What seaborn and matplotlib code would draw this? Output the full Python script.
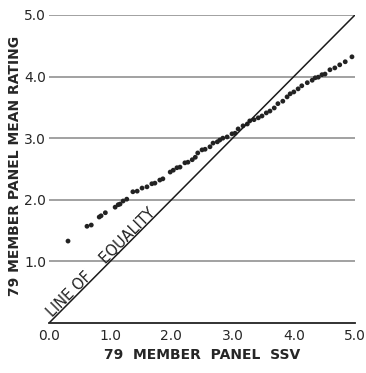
import seaborn as sns
import matplotlib
matplotlib.use("Agg")
import matplotlib.pyplot as plt
import pandas as pd

# values
ssv = [0.31, 0.62, 0.69, 0.82, 0.85, 0.92, 1.08, 1.13, 1.16, 1.21,
       1.27, 1.37, 1.44, 1.52, 1.60, 1.68, 1.73, 1.81, 1.86, 1.98,
       2.03, 2.09, 2.14, 2.22, 2.27, 2.34, 2.39, 2.43, 2.50, 2.55,
       2.63, 2.68, 2.75, 2.79, 2.84, 2.91, 2.99, 3.04, 3.09, 3.17,
       3.24, 3.28, 3.35, 3.42, 3.48, 3.55, 3.61, 3.68, 3.74, 3.82,
       3.89, 3.94, 4.00, 4.07, 4.13, 4.22, 4.30, 4.35, 4.40, 4.46,
       4.51, 4.59, 4.67, 4.75, 4.84, 4.95]
mean_rating = [1.33, 1.57, 1.59, 1.72, 1.74, 1.79, 1.88, 1.92, 1.93, 1.98,
               2.01, 2.13, 2.14, 2.19, 2.21, 2.26, 2.27, 2.32, 2.34, 2.45,
               2.48, 2.52, 2.53, 2.60, 2.61, 2.65, 2.69, 2.76, 2.81, 2.82,
               2.86, 2.92, 2.94, 2.97, 3.00, 3.02, 3.07, 3.08, 3.15, 3.20,
               3.23, 3.28, 3.30, 3.33, 3.36, 3.41, 3.44, 3.49, 3.56, 3.60,
               3.67, 3.72, 3.75, 3.80, 3.85, 3.90, 3.94, 3.98, 3.99, 4.03,
               4.04, 4.11, 4.14, 4.19, 4.24, 4.32]
x_ticks = [0, 1, 2, 3, 4, 5]
x_ticklabels = ["0.0", "1.0", "2.0", "3.0", "4.0", "5.0"]
y_ticks = [1, 2, 3, 4, 5]
y_ticklabels = ["1.0", "2.0", "3.0", "4.0", "5.0"]

df = pd.DataFrame({"ssv": ssv, "rating": mean_rating})

sns.set_style("white")
plt.rcParams['font.family'] = ['DejaVu Sans']

fig = plt.figure(figsize=(3.66, 3.73), dpi=100)
ax = fig.add_axes([0.134, 0.134, 0.836, 0.826])

for yt in y_ticks:
    ax.axhline(yt, color='#9a9a9a', lw=1.3, zorder=0)
ax.axline((0, 0), slope=1, color='#1a1a1a', lw=1.1)

sns.scatterplot(data=df, x="ssv", y="rating", ax=ax, color='#222222',
                s=12, edgecolor='none', legend=False)

ax.text(0.06, 0.088, "LINE OF    EQUALITY", rotation=45, rotation_mode='anchor',
        ha='left', va='baseline', fontsize=10.5, color='#222222')

ax.set_xlim(0, 5)
ax.set_ylim(0, 5)
ax.set_xticks(x_ticks)
ax.set_xticklabels(x_ticklabels, fontsize=10)
ax.set_yticks(y_ticks)
ax.set_yticklabels(y_ticklabels, fontsize=10)
ax.tick_params(axis='x', direction='in', length=4, width=1, color='#222222', pad=4)
ax.tick_params(axis='y', length=0, pad=2)

for side in ['top', 'right', 'left']:
    ax.spines[side].set_visible(False)
ax.spines['bottom'].set_color('#222222')
ax.spines['bottom'].set_linewidth(1.3)

ax.set_xlabel("79  MEMBER  PANEL  SSV", fontsize=10, fontweight='bold', labelpad=4)
ax.set_ylabel("79 MEMBER PANEL MEAN RATING", fontsize=10, fontweight='bold')
ax.yaxis.set_label_coords(-0.088, 0.51)

fig.savefig("out.png", dpi=100)
